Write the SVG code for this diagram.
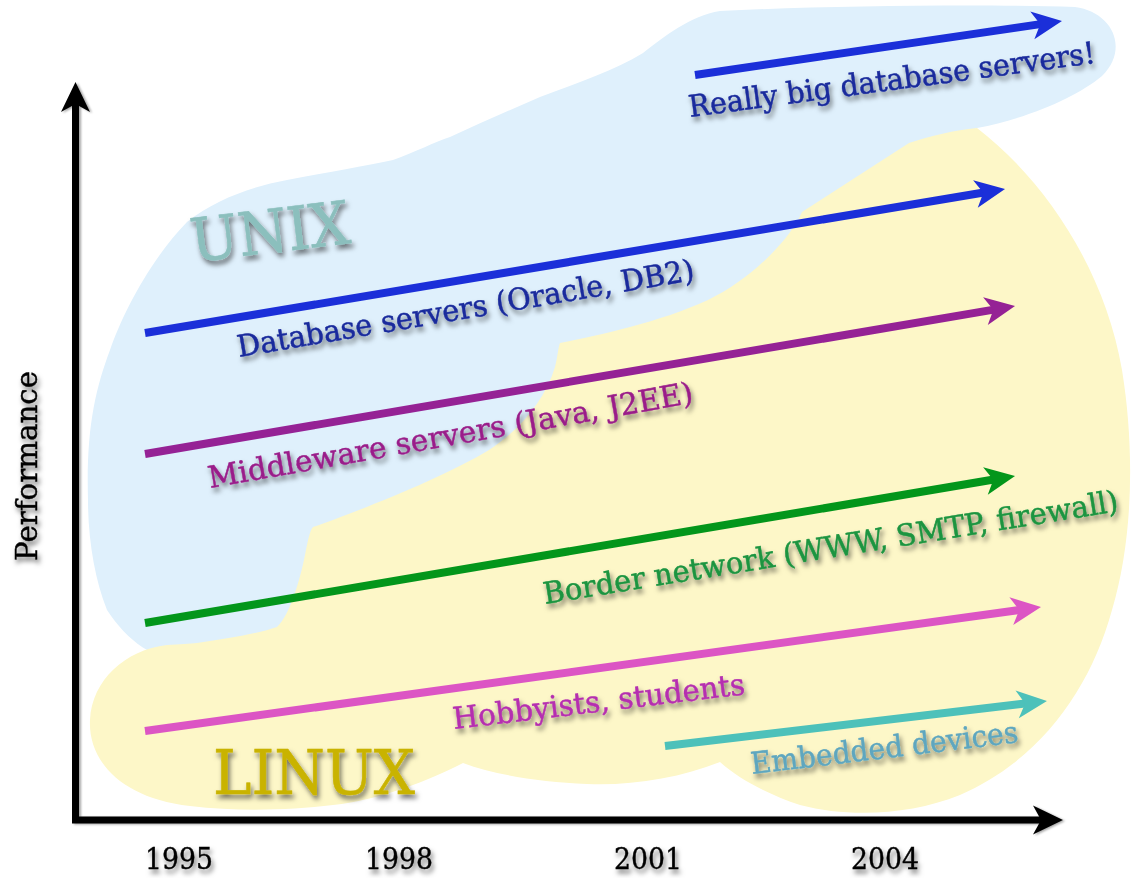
<svg xmlns="http://www.w3.org/2000/svg" width="1138" height="878" viewBox="0 0 1138 878">
<style>
  text { font-family: "DejaVu Serif", "Liberation Serif", serif; }
  .lbl { font-size: 30px; stroke-width: 0.5; }
  .arr { fill: none; stroke-width: 8; stroke-linecap: butt; }
  .axis { fill: none; stroke: #000; stroke-width: 7; }
</style>
<defs>
  <filter id="sh" x="-10%" y="-30%" width="125%" height="180%">
    <feDropShadow dx="2" dy="4" stdDeviation="2.4" flood-color="#000" flood-opacity="0.55"/>
  </filter>
  <filter id="axsh" x="-5%" y="-5%" width="110%" height="110%">
    <feDropShadow dx="2" dy="1" stdDeviation="0.8" flood-color="#000" flood-opacity="0.35"/>
  </filter>
  <marker id="ah-black" markerUnits="userSpaceOnUse" markerWidth="34" markerHeight="32" viewBox="-32 -16 34 32" refX="-20" refY="0" orient="auto" overflow="visible">
    <path d="M0,0 L-30,-14.5 L-22,0 L-30,14.5 Z" fill="#000"/>
  </marker>
  <marker id="ah-blue" markerUnits="userSpaceOnUse" markerWidth="34" markerHeight="32" viewBox="-32 -16 34 32" refX="-20" refY="0" orient="auto" overflow="visible">
    <path d="M0,0 L-30,-14 L-22,0 L-30,14 Z" fill="#1b2fd9"/>
  </marker>
  <marker id="ah-purple" markerUnits="userSpaceOnUse" markerWidth="34" markerHeight="32" viewBox="-32 -16 34 32" refX="-20" refY="0" orient="auto" overflow="visible">
    <path d="M0,0 L-30,-14 L-22,0 L-30,14 Z" fill="#952295"/>
  </marker>
  <marker id="ah-green" markerUnits="userSpaceOnUse" markerWidth="34" markerHeight="32" viewBox="-32 -16 34 32" refX="-20" refY="0" orient="auto" overflow="visible">
    <path d="M0,0 L-30,-14 L-22,0 L-30,14 Z" fill="#03961b"/>
  </marker>
  <marker id="ah-pink" markerUnits="userSpaceOnUse" markerWidth="34" markerHeight="32" viewBox="-32 -16 34 32" refX="-20" refY="0" orient="auto" overflow="visible">
    <path d="M0,0 L-30,-14 L-22,0 L-30,14 Z" fill="#dc55c4"/>
  </marker>
  <marker id="ah-teal" markerUnits="userSpaceOnUse" markerWidth="34" markerHeight="32" viewBox="-32 -16 34 32" refX="-20" refY="0" orient="auto" overflow="visible">
    <path d="M0,0 L-30,-14 L-22,0 L-30,14 Z" fill="#4dc1ba"/>
  </marker>
</defs>

<rect width="1138" height="878" fill="#ffffff"/>

<!-- regions -->
<g id="unix-region">
  <path fill="#dff0fc" d="M 88,500 C 86,430 95,390 110,350 C 122,315 150,260 187,222 C 215,200 250,187 287,180 C 330,172 365,166 393,160 C 415,152 435,142 450,137 C 480,123 510,110 540,97 C 580,82 615,70 643,53 C 665,36 690,16 720,11 C 820,6 980,4 1075,7 C 1112,12 1130,48 1102,76 C 1078,96 1030,118 977,128 L 900,160 L 700,500 L 300,640 L 200,660 C 160,665 130,645 107,610 C 95,580 88,540 88,500 Z"/>
</g>
<g id="linux-region">
  <path fill="#fdf7c8" d="M 977,128 C 1045,180 1105,270 1122,370 C 1135,450 1133,540 1112,610 C 1090,690 1040,760 960,795 C 910,815 850,818 800,805 C 770,795 740,780 720,762 C 680,778 630,786 587,784 C 540,782 495,775 463,763 C 430,780 380,800 333,805 C 290,810 240,812 190,806 C 120,798 88,760 90,720 C 92,680 125,650 167,645 C 180,644 190,644 197,643 C 230,638 260,633 277,627 C 290,615 300,580 305,555 C 308,540 310,530 313,527 C 340,518 440,480 489,450 C 520,430 545,400 555,367 C 558,355 558,348 560,343 C 600,335 660,322 708,300 C 750,280 790,240 802,212 L 909,143 C 930,136 955,130 977,128 Z"/>
</g>

<g id="region-labels" filter="url(#sh)">
  <text x="0" y="0" font-size="60" fill="#8bbfbd" stroke="#8bbfbd" stroke-width="0.6" textLength="160" lengthAdjust="spacingAndGlyphs" transform="translate(193,262) rotate(-6.8)">UNIX</text>
  <text x="213" y="794" font-size="61" fill="#c9b300" stroke="#c9b300" stroke-width="0.6" textLength="202" lengthAdjust="spacingAndGlyphs">LINUX</text>
</g>

<!-- axes -->
<g id="axes" filter="url(#axsh)">
  <line class="axis" x1="75.5" y1="823" x2="75.5" y2="102" marker-end="url(#ah-black)"/>
  <line class="axis" x1="72" y1="820" x2="1043" y2="820" marker-end="url(#ah-black)"/>
</g>

<!-- connectors -->
<g id="arrows">
  <line class="arr" stroke="#1b2fd9" x1="695" y1="75" x2="1042.2" y2="23.9" marker-end="url(#ah-blue)"/>
  <line class="arr" stroke="#1b2fd9" x1="145" y1="333" x2="985.3" y2="192.3" marker-end="url(#ah-blue)"/>
  <line class="arr" stroke="#952295" x1="145" y1="454" x2="995.3" y2="309.4" marker-end="url(#ah-purple)"/>
  <line class="arr" stroke="#03961b" x1="145" y1="623" x2="995.3" y2="479.3" marker-end="url(#ah-green)"/>
  <line class="arr" stroke="#dc55c4" x1="145" y1="731" x2="1021.2" y2="609.7" marker-end="url(#ah-pink)"/>
  <line class="arr" stroke="#4dc1ba" x1="665" y1="746" x2="1027.1" y2="703.3" marker-end="url(#ah-teal)"/>
</g>

<!-- labels -->
<g id="label-bigdb" filter="url(#sh)">
  <text class="lbl" fill="#1a2a9c" stroke="#1a2a9c" textLength="410" lengthAdjust="spacingAndGlyphs" transform="translate(690,117) rotate(-7.6)">Really big database servers!</text>
</g>
<g id="label-db" filter="url(#sh)">
  <text class="lbl" fill="#1a2a9c" stroke="#1a2a9c" textLength="463" lengthAdjust="spacingAndGlyphs" transform="translate(239,357) rotate(-9.6)">Database servers (Oracle, DB2)</text>
</g>
<g id="label-mw" filter="url(#sh)">
  <text class="lbl" fill="#9a1f8a" stroke="#9a1f8a" textLength="492" lengthAdjust="spacingAndGlyphs" transform="translate(210,488) rotate(-10)">Middleware servers (Java, J2EE)</text>
</g>
<g id="label-border" filter="url(#sh)">
  <text class="lbl" fill="#1b9440" stroke="#1b9440" textLength="582" lengthAdjust="spacingAndGlyphs" transform="translate(545,604) rotate(-9.2)">Border network (WWW, SMTP, firewall)</text>
</g>
<g id="label-hobby" filter="url(#sh)">
  <text class="lbl" fill="#b52fb0" stroke="#b52fb0" textLength="294" lengthAdjust="spacingAndGlyphs" transform="translate(454,729) rotate(-6.8)">Hobbyists, students</text>
</g>
<g id="label-embedded" filter="url(#sh)">
  <text class="lbl" fill="#5ea6bf" stroke="#5ea6bf" textLength="269" lengthAdjust="spacingAndGlyphs" transform="translate(752,774) rotate(-6.8)">Embedded devices</text>
</g>

<g id="axis-labels" filter="url(#sh)">
  <text x="145" y="869" font-size="30" fill="#000" stroke="#000" stroke-width="0.4" textLength="68" lengthAdjust="spacingAndGlyphs">1995</text>
  <text x="365" y="869" font-size="30" fill="#000" stroke="#000" stroke-width="0.4" textLength="68" lengthAdjust="spacingAndGlyphs">1998</text>
  <text x="614" y="869" font-size="30" fill="#000" stroke="#000" stroke-width="0.4" textLength="68" lengthAdjust="spacingAndGlyphs">2001</text>
  <text x="851" y="869" font-size="30" fill="#000" stroke="#000" stroke-width="0.4" textLength="68" lengthAdjust="spacingAndGlyphs">2004</text>
  <text font-size="30" fill="#000" stroke="#000" stroke-width="0.4" textLength="190" lengthAdjust="spacingAndGlyphs" transform="translate(37,561) rotate(-90)">Performance</text>
</g>
</svg>
